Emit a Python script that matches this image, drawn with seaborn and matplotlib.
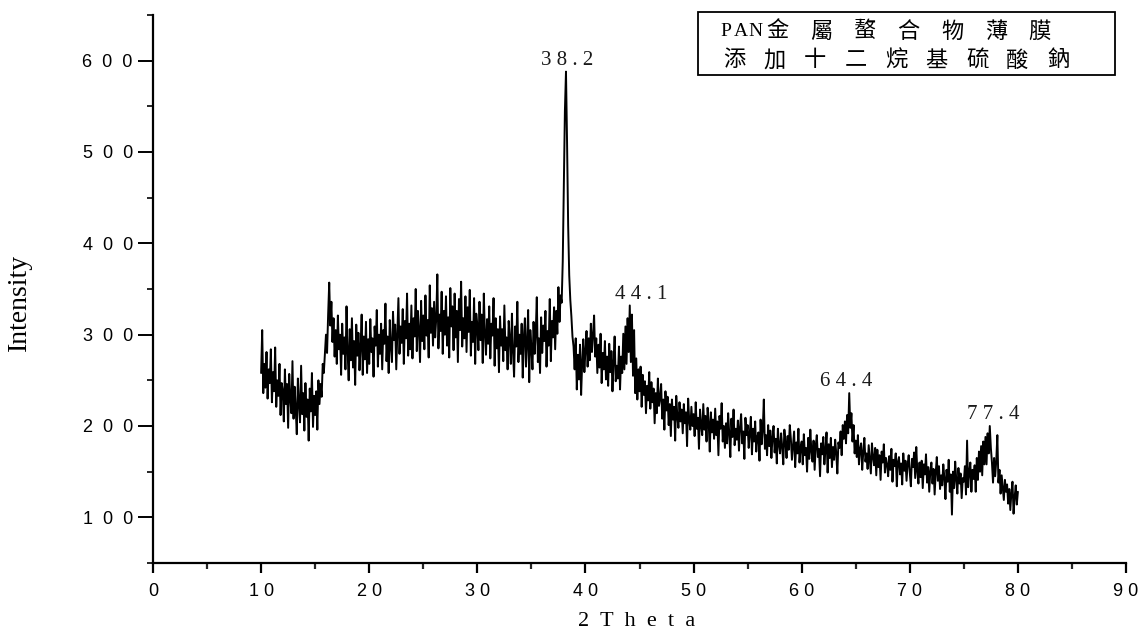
import numpy as np
import pandas as pd
import matplotlib
matplotlib.use("Agg")
import matplotlib.pyplot as plt
import seaborn as sns
from matplotlib.patches import Rectangle
from matplotlib.ticker import MultipleLocator, FuncFormatter

# Diffractometer scan grid (degrees 2-theta)
theta_start = 10.0
theta_step = 0.1

# Measured counts, one row per degree (ten readings each)
intensity_10s = [
    258, 305, 236, 268, 242, 281, 230, 262, 247, 284,
    226, 259, 238, 286, 221, 250, 233, 268, 212, 247,
    239, 205, 262, 224, 246, 198, 257, 230, 214, 271,
    208, 243, 219, 191, 252, 225, 204, 266, 213, 236,
    195, 247, 210, 229, 184, 241, 216, 258, 199, 233,
    212, 238, 196, 250, 224, 246, 232, 268, 258, 280,
    300, 280, 322, 357, 310, 336, 292, 318, 276, 305,
    268, 321, 284, 300, 256, 312, 279, 297, 262, 331,
    281, 250, 306, 272, 318, 264, 293, 245, 311, 277,
    302, 261, 287, 322, 256, 298, 273, 314, 258, 295,
]
intensity_20s = [
    268, 317, 281, 296, 254, 309, 288, 327, 265, 300,
    279, 312, 262, 305, 290, 334, 271, 298, 258, 316,
    287, 270, 325, 294, 311, 262, 303, 340, 279, 309,
    291, 328, 268, 315, 296, 345, 277, 312, 284, 332,
    274, 318, 298, 350, 282, 326, 305, 270, 337, 293,
    321, 284, 343, 299, 316, 275, 354, 302, 329, 288,
    336, 297, 318, 366, 285, 322, 304, 347, 279, 326,
    300, 342, 288, 319, 275, 351, 309, 331, 283, 345,
    297, 326, 270, 339, 305, 358, 287, 318, 296, 342,
    281, 330, 303, 349, 277, 314, 292, 340, 268, 323,
]
intensity_30s = [
    310, 283, 336, 294, 322, 269, 345, 301, 278, 317,
    290, 331, 274, 312, 299, 340, 266, 318, 285, 306,
    259, 320, 288, 306, 271, 332, 283, 297, 262, 315,
    296, 268, 323, 281, 254, 309, 287, 336, 270, 300,
    279, 312, 253, 297, 318, 265, 291, 327, 248, 305,
    286, 262, 314, 279, 301, 341, 270, 296, 258, 319,
    280, 310, 293, 326, 265, 304, 288, 339, 271, 315,
    297, 330, 284, 326, 301, 352, 314, 343, 335, 380,
    460, 545, 588, 510, 420, 365, 338, 320, 298, 287,
    262, 296, 240, 278, 251, 289, 234, 270, 295, 259,
]
intensity_40s = [
    283, 304, 265, 296, 272, 312, 281, 300, 321, 276,
    296, 258, 289, 264, 301, 247, 280, 262, 293, 251,
    276, 244, 290, 259, 282, 238, 271, 298, 249, 266,
    252, 287, 240, 276, 258, 301, 262, 309, 268, 318,
    281, 332, 270, 322, 255, 305, 236, 274, 229, 262,
    238, 265, 221, 256, 234, 249, 214, 244, 228, 259,
    219, 248, 226, 241, 203, 236, 214, 252, 222, 230,
    246, 208, 229, 196, 238, 217, 232, 201, 224, 189,
    229, 207, 221, 184, 233, 210, 198, 226, 205, 218,
    192, 224, 203, 215, 178, 230, 206, 196, 221, 200,
]
intensity_50s = [
    213, 189, 226, 197, 209, 175, 218, 201, 190, 224,
    196, 211, 183, 220, 204, 172, 215, 193, 207, 186,
    219, 190, 205, 168, 211, 197, 225, 183, 200, 176,
    203, 181, 214, 192, 166, 208, 188, 218, 179, 197,
    185, 206, 173, 199, 213, 181, 194, 164, 209, 190,
    201, 176, 192, 210, 169, 197, 183, 205, 172, 188,
    193, 162, 207, 180, 196, 229, 175, 190, 168, 201,
    178, 195, 165, 188, 200, 171, 186, 159, 197, 180,
    170, 192, 177, 158, 196, 183, 165, 189, 174, 201,
    186, 163, 179, 194, 155, 182, 170, 197, 160, 176,
]
intensity_60s = [
    183, 158, 191, 168, 176, 150, 187, 164, 196, 172,
    161, 184, 152, 178, 190, 166, 175, 145, 181, 169,
    188, 158, 174, 193, 149, 180, 165, 187, 155, 177,
    163, 185, 170, 148, 182, 176, 194, 168, 201, 186,
    205, 181, 212, 192, 236, 198, 214, 183, 201, 170,
    184, 166, 190, 158, 175, 181, 152, 172, 187, 161,
    170, 153, 179, 163, 148, 181, 166, 157, 176, 146,
    174, 155, 168, 141, 172, 160, 180, 149, 165, 158,
    145, 167, 152, 175, 139, 163, 156, 170, 134, 161,
    166, 147, 159, 136, 170, 151, 162, 140, 158, 168,
]
intensity_70s = [
    149, 134, 164, 155, 171, 143, 177, 150, 137, 160,
    144, 162, 132, 158, 147, 169, 138, 155, 128, 151,
    160, 137, 153, 125, 149, 166, 140, 156, 131, 146,
    135, 158, 143, 120, 152, 139, 163, 128, 147, 103,
    150, 132, 161, 141, 126, 154, 137, 148, 121, 143,
    139, 156, 125, 184, 133, 149, 160, 128, 152, 142,
    157, 128, 165, 141, 172, 150, 178, 146, 183, 158,
    188, 158, 192, 170, 200, 176, 160, 138, 165, 145,
    162, 190, 138, 152, 126, 146, 133, 119, 141, 128,
    136, 115, 131, 108, 127, 139, 104, 122, 135, 114,
]
intensity_80 = [128]

# Indexed reflections
peak_positions = [38.2, 44.1, 64.4, 77.4]
peak_label_shift = [0.1, 1.05, -0.3, 0.35]

# Sample description
legend_line1 = "PAN金屬螯合物薄膜"
legend_line2 = "添加十二烷基硫酸鈉"

intensity = np.array(intensity_10s + intensity_20s + intensity_30s + intensity_40s
                     + intensity_50s + intensity_60s + intensity_70s + intensity_80, dtype=float)
theta = np.round(theta_start + theta_step * np.arange(len(intensity)), 1)
df = pd.DataFrame({"two_theta": theta, "intensity": intensity})

sns.set_style("ticks")
plt.rcParams["font.family"] = ["Liberation Sans", "DejaVu Sans"]

W, H = 1138, 638
fig = plt.figure(figsize=(W / 100, H / 100), dpi=100)
ax = fig.add_axes([153 / W, 1 - 563 / H, 973 / W, 548 / H])

sns.lineplot(data=df, x="two_theta", y="intensity", color="black",
             linewidth=1.4, estimator=None, ax=ax)

ax.set_xlim(0, 90)
ax.set_ylim(50, 650)
sns.despine(ax=ax)
for side in ("left", "bottom"):
    ax.spines[side].set_linewidth(1.6)
    ax.spines[side].set_color("black")

ax.xaxis.set_major_locator(MultipleLocator(10))
ax.xaxis.set_minor_locator(MultipleLocator(5))
ax.yaxis.set_major_locator(MultipleLocator(100))
ax.yaxis.set_minor_locator(MultipleLocator(50))

ax.xaxis.set_major_formatter(FuncFormatter(lambda v, pos: " ".join(str(int(round(v))))))
ax.yaxis.set_major_formatter(FuncFormatter(lambda v, pos: "  ".join(str(int(round(v))))))
ax.set_yticks([100, 200, 300, 400, 500, 600])

ax.tick_params(axis="x", which="major", direction="out", length=7.5, width=1.6,
               pad=7, labelsize=13, colors="black")
ax.tick_params(axis="x", which="minor", direction="out", length=4.2, width=1.6)
ax.tick_params(axis="y", which="major", direction="out", length=11, width=1.4,
               pad=3.5, labelsize=13, colors="black")
ax.tick_params(axis="y", which="minor", direction="out", length=4.5, width=1.4)

serif = ["Liberation Serif", "DejaVu Serif"]
ax.set_ylabel("Intensity", fontfamily=serif, fontsize=20, color="black")
ax.yaxis.set_label_coords(-0.1244, 0.476)
ax.set_xlabel("2  T  h  e  t  a", fontfamily=serif, fontsize=16, color="black")
ax.xaxis.set_label_coords(0.497, -0.089)

# Peak annotations placed just above each reflection maximum
for pos, shift in zip(peak_positions, peak_label_shift):
    idx = int(np.argmin(np.abs(theta - pos)))
    label = " ".join(f"{pos:.1f}")
    ax.text(pos + shift, intensity[idx] + 2, label, ha="center", va="bottom",
            fontfamily=serif, fontsize=15, color="#1a1a1a")

# Framed sample description
fig.patches.append(Rectangle((698 / W, 1 - 75 / H), 417 / W, 63 / H,
                             transform=fig.transFigure, fill=False,
                             edgecolor="black", linewidth=1.3))
cjk = ["Noto Sans CJK TC", "DejaVu Sans"]
line1_y = 1 - 31 / H
line2_y = 1 - 60 / H
for i, ch in enumerate(legend_line1):
    if ch.isascii():
        x = [726, 741, 755][i]
        fig.text(x / W, line1_y, ch, ha="center", va="center",
                 fontfamily=serif, fontsize=14, color="black")
    else:
        x = 777 + (i - 3) * 43.8
        fig.text(x / W, line1_y, ch, ha="center", va="center",
                 fontfamily=cjk, fontsize=16, color="black")
for i, ch in enumerate(legend_line2):
    x = 734 + i * 40.5
    fig.text(x / W, line2_y, ch, ha="center", va="center",
             fontfamily=cjk, fontsize=16, color="black")

fig.savefig("out.png", dpi=100, facecolor="white")
